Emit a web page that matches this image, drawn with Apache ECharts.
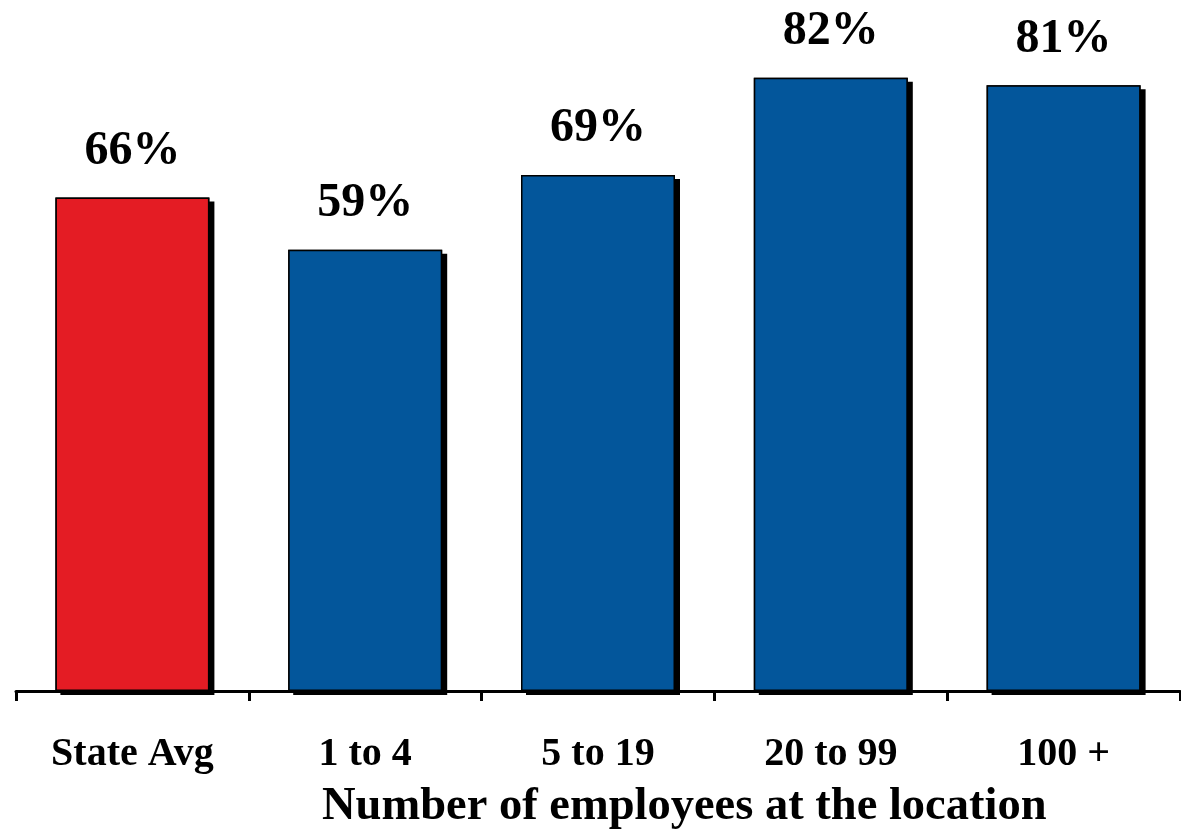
<!DOCTYPE html>
<html>
<head>
<meta charset="utf-8">
<script src="https://cdn.jsdelivr.net/npm/echarts@6/dist/echarts.min.js"></script>
<style>
  html, body { margin: 0; padding: 0; background: #fff; }
  #chart { width: 1181px; height: 830px; }
</style>
</head>
<body>
<div id="chart"></div>
<script>
// 数据
const categories = ['State Avg', '1 to 4', '5 to 19', '20 to 99', '100 +']
const values = [66, 59, 69, 82, 81]
const barColors = ['#E41C24', '#03569B', '#03569B', '#03569B', '#03569B']
const axisTitle = 'Number of employees at the location'

const fontFamily = '"Liberation Serif", "DejaVu Serif", serif'

const chart = echarts.init(document.getElementById('chart'))

const option = {
  animation: false,
  title: {
    text: axisTitle,
    left: 322,
    top: 783,
    padding: 0,
    textStyle: {
      fontFamily: fontFamily,
      fontWeight: 'bold',
      fontSize: 46.5,
      color: '#000'
    }
  },
  grid: {
    left: 16,
    right: 1,
    top: 0,
    bottom: 139
  },
  xAxis: {
    type: 'category',
    data: categories,
    z: 3,
    axisLine: {
      lineStyle: { color: '#000', width: 3 }
    },
    axisTick: {
      show: true,
      length: 10,
      lineStyle: { color: '#000', width: 3 }
    },
    axisLabel: {
      margin: 44,
      fontFamily: fontFamily,
      fontWeight: 'bold',
      fontSize: 40,
      color: '#000'
    }
  },
  yAxis: {
    type: 'value',
    min: 0,
    max: 92.4,
    show: false,
    splitLine: { show: false }
  },
  series: [
    {
      // 阴影层
      type: 'bar',
      barWidth: 154,
      silent: true,
      data: values,
      itemStyle: {
        color: '#000',
        shadowColor: '#000',
        shadowBlur: 0,
        shadowOffsetX: 5,
        shadowOffsetY: 4
      }
    },
    {
      type: 'bar',
      barWidth: 154,
      barGap: '-100%',
      data: values.map((v, i) => ({
        value: v,
        itemStyle: { color: barColors[i] }
      })),
      itemStyle: {
        borderColor: '#000',
        borderWidth: 1.5
      },
      label: {
        show: true,
        position: 'top',
        distance: 22,
        formatter: '{c}%',
        fontFamily: fontFamily,
        fontWeight: 'bold',
        fontSize: 48,
        color: '#000'
      }
    }
  ]
}

chart.setOption(option)
window.addEventListener('resize', () => chart.resize())
</script>
</body>
</html>
